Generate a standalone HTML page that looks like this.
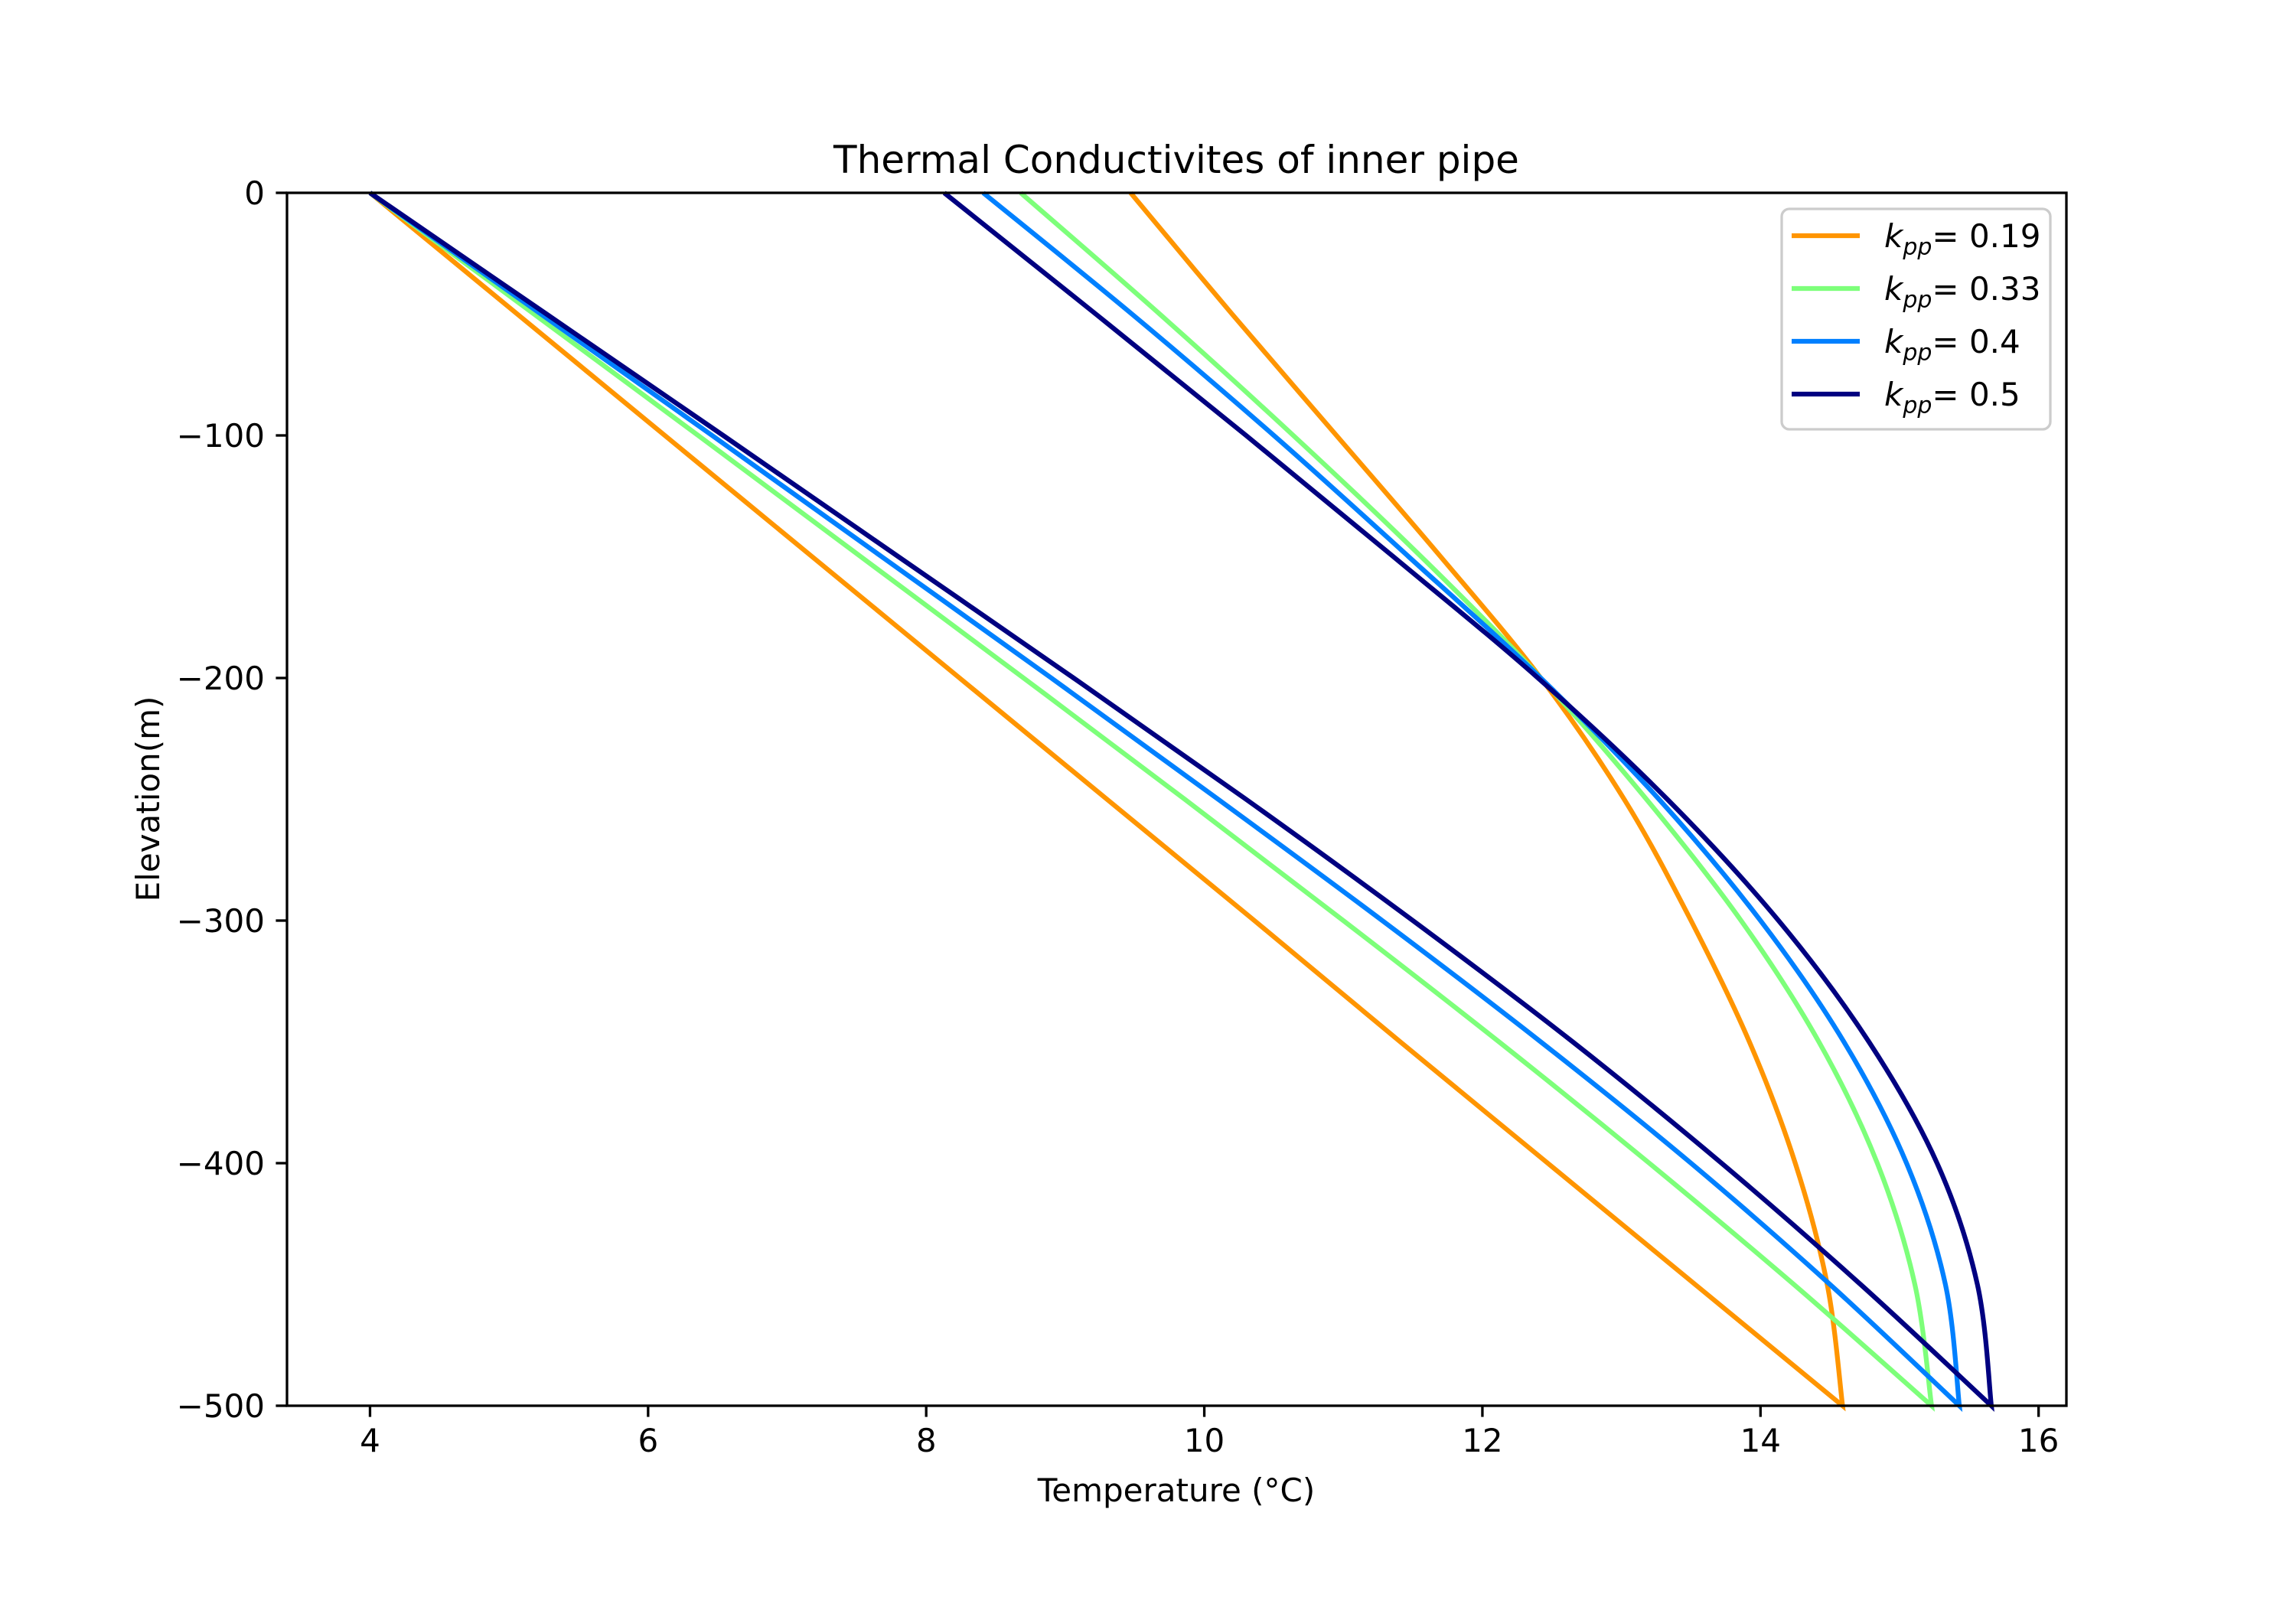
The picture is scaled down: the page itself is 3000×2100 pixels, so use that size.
<!DOCTYPE html>
<html><head><meta charset="utf-8"><style>
html,body{margin:0;padding:0;background:#fff}
svg{display:block;font-family:"DejaVu Sans","Liberation Sans",sans-serif}
</style></head><body>
<svg id="chart" width="3000" height="2100" viewBox="0 0 3000 2100" xmlns="http://www.w3.org/2000/svg">
<rect width="3000" height="2100" fill="#fff"/>
<text x="1537" y="226" font-size="50" text-anchor="middle">Thermal Conductivites of inner pipe</text>
<g id="plot"></g>
<g id="axes"></g>
<text x="1537" y="1962" font-size="42" text-anchor="middle">Temperature (°C)</text>
<text transform="translate(208,1044) rotate(-90)" font-size="42" text-anchor="middle">Elevation(m)</text>
<g id="legend"></g>
</svg>
<script>
const seriesLabels = ["0.19", "0.33", "0.4", "0.5"];
const seriesColors = ["#ff9500", "#7dff7a", "#0080ff", "#000080"];
const depths = [0, -50, -100, -150, -200, -250, -300, -350, -400, -450, -500];
const downK019 = [4, 5.06, 6.12, 7.18, 8.24, 9.3, 10.36, 11.41, 12.47, 13.53, 14.59];
const downK033 = [4, 5.18, 6.36, 7.53, 8.7, 9.86, 11.0, 12.12, 13.2, 14.24, 15.23];
const downK04 = [4, 5.23, 6.46, 7.68, 8.9, 10.1, 11.28, 12.42, 13.5, 14.5, 15.43];
const downK05 = [4, 5.27, 6.54, 7.8, 9.06, 10.3, 11.5, 12.65, 13.72, 14.72, 15.66];
const upK019 = [9.47, 10.2, 10.95, 11.7, 12.42, 13.02, 13.5, 13.92, 14.25, 14.48, 14.59];
const upK033 = [8.68, 9.68, 10.64, 11.56, 12.42, 13.18, 13.86, 14.42, 14.84, 15.11, 15.23];
const upK04 = [8.41, 9.48, 10.5, 11.47, 12.42, 13.27, 14.0, 14.6, 15.05, 15.33, 15.43];
const upK05 = [8.13, 9.22, 10.3, 11.36, 12.4, 13.33, 14.13, 14.78, 15.27, 15.56, 15.66];
const xTicks = [4, 6, 8, 10, 12, 14, 16];
const yTicks = [0, -100, -200, -300, -400, -500];

const NS = "http://www.w3.org/2000/svg";
const L = 375, R = 2700, T = 252, B = 1837;
const xMin = 3.403, xMax = 16.2, yMin = -500, yMax = 0;
function xs(v){ return L + (v - xMin) / (xMax - xMin) * (R - L); }
function ys(v){ return T + (yMax - v) / (yMax - yMin) * (B - T); }
function mk(tag, attrs, parent){ const e = document.createElementNS(NS, tag); for (const k in attrs) e.setAttribute(k, attrs[k]); parent.appendChild(e); return e; }
function smooth(p, first){
  let d = (first ? "M" : "L") + p[0][0].toFixed(1) + "," + p[0][1].toFixed(1);
  for (let i = 0; i < p.length - 1; i++) {
    const p0 = p[Math.max(0, i - 1)], p1 = p[i], p2 = p[i + 1], p3 = p[Math.min(p.length - 1, i + 2)];
    const c1 = [p1[0] + (p2[0] - p0[0]) / 6, p1[1] + (p2[1] - p0[1]) / 6];
    const c2 = [p2[0] - (p3[0] - p1[0]) / 6, p2[1] - (p3[1] - p1[1]) / 6];
    d += " C" + c1[0].toFixed(1) + "," + c1[1].toFixed(1) + " " + c2[0].toFixed(1) + "," + c2[1].toFixed(1) + " " + p2[0].toFixed(1) + "," + p2[1].toFixed(1);
  }
  return d;
}

const plot = document.getElementById("plot");
const downs = [downK019, downK033, downK04, downK05];
const ups = [upK019, upK033, upK04, upK05];
for (let s = 0; s < 4; s++) {
  const a = depths.map((dp, i) => [xs(downs[s][i]), ys(dp)]);
  const b = [];
  for (let i = depths.length - 1; i >= 0; i--) b.push([xs(ups[s][i]), ys(depths[i])]);
  const pth = mk("path", {d: smooth(a, true) + " " + smooth(b, false), fill: "none", stroke: seriesColors[s], "stroke-width": 6.25, "stroke-linejoin": "miter"}, plot);
  
  
}

const axes = document.getElementById("axes");
const frame = mk("rect", {x: L, y: T, width: R - L, height: B - T, fill: "none", stroke: "#000", "stroke-width": 3.3}, axes);


xTicks.forEach(v => {
  const x = xs(v);
  const t = mk("line", {x1: x, y1: B, x2: x, y2: B + 14.6, stroke: "#000", "stroke-width": 3.3}, axes);
  
  
  const lb = mk("text", {x: x, y: 1897, "font-size": 42, "text-anchor": "middle"}, axes);
  lb.textContent = String(v);
  
  
});
yTicks.forEach(v => {
  const y = ys(v);
  const t = mk("line", {x1: L - 14.6, y1: y, x2: L, y2: y, stroke: "#000", "stroke-width": 3.3}, axes);
  
  
  const lb = mk("text", {x: 346, y: y + 15, "font-size": 42, "text-anchor": "end"}, axes);
  lb.textContent = v < 0 ? "\u2212" + Math.abs(v) : String(v);
  
  
});

const legend = document.getElementById("legend");
const box = mk("rect", {x: 2328, y: 273, width: 351, height: 288, rx: 10, fill: "#fff", "fill-opacity": 0.8, stroke: "#cccccc", "stroke-width": 3.3}, legend);


for (let s = 0; s < 4; s++) {
  const y = 308 + s * 69;
  const ln = mk("line", {x1: 2341, y1: y, x2: 2430, y2: y, stroke: seriesColors[s], "stroke-width": 6.25}, legend);
  
  
  const tx = mk("text", {x: 2462, y: y + 15, "font-size": 42}, legend);
  
  
  const k = mk("tspan", {"font-style": "italic"}, tx); k.textContent = "k";
  const sub = mk("tspan", {"font-style": "italic", "font-size": 30, dy: 10}, tx); sub.textContent = "pp";
  const rest = mk("tspan", {dy: -10}, tx); rest.textContent = "= " + seriesLabels[s];
}
</script>
</body></html>
